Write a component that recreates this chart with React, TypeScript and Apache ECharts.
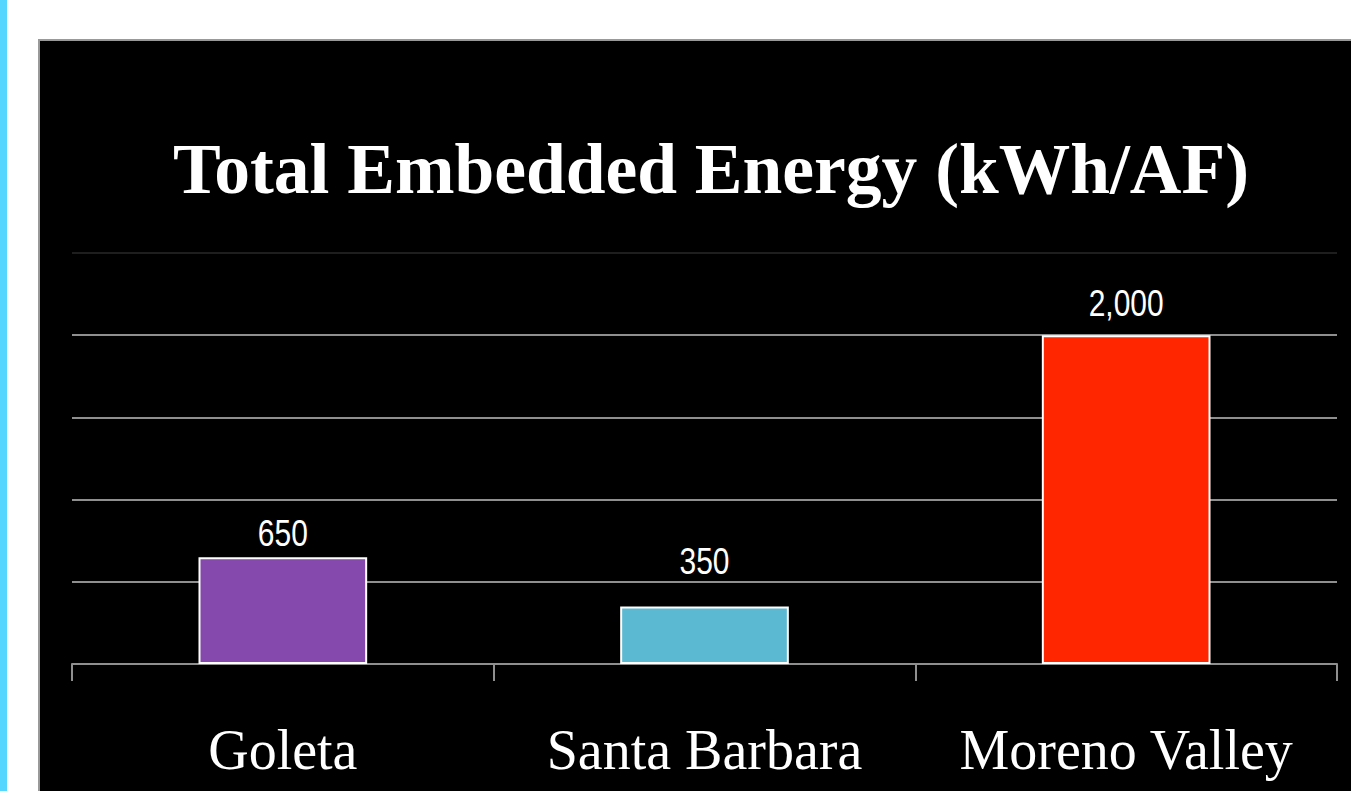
import React, { useEffect, useRef } from "react";
import * as echarts from "echarts";

// Embedded energy per acre-foot of delivered water
const cities = ["Goleta", "Santa Barbara", "Moreno Valley"];
const energyKwhPerAF = [650, 350, 2000];
const barColors = ["#8549ad", "#5cb9d2", "#ff2600"];
// gap between each bar top and its value label
const labelGaps = [5, 27, 13];

const W = 1351;
const H = 791;

const SERIF = "'Liberation Serif', 'Times New Roman', serif";
const SANS = "'Liberation Sans', Arial, sans-serif";

export default function App() {
  const ref = useRef<HTMLDivElement>(null);

  useEffect(() => {
    if (!ref.current) return;
    const chart = echarts.init(ref.current, undefined, { renderer: "svg", width: W, height: H });
    chart.setOption({
      animation: false,
      backgroundColor: "#ffffff",
      graphic: [
        { type: "rect", left: 0, top: 0, shape: { width: 7, height: H }, style: { fill: "#55d6ff" }, z: 0 },
        {
          type: "rect",
          left: 38,
          top: 39,
          shape: { width: W - 37, height: H - 38 },
          style: { fill: "#000000", stroke: "#999999", lineWidth: 2 },
          z: -1,
          silent: true,
        },
      ],
      title: {
        text: "Total Embedded Energy (kWh/AF)",
        left: 706,
        top: 127,
        textAlign: "center",
        textStyle: {
          color: "#ffffff",
          fontFamily: SERIF,
          fontWeight: "bold",
          fontSize: 71.5,
        },
      },
      grid: { left: 72, right: 14, top: 253, bottom: 127, containLabel: false },
      xAxis: {
        type: "category",
        data: cities,
        axisLine: { lineStyle: { color: "#8f8f8f", width: 2 } },
        axisTick: { show: true, interval: 0, length: 17, lineStyle: { color: "#8f8f8f", width: 2 } },
        axisLabel: {
          interval: 0,
          color: "#ffffff",
          fontFamily: SERIF,
          fontSize: 56,
          margin: 58,
        },
      },
      yAxis: {
        type: "value",
        min: 0,
        max: 2500,
        interval: 500,
        axisLabel: { show: false },
        axisLine: { show: false },
        axisTick: { show: false },
        splitLine: {
          lineStyle: {
            color: ["#8f8f8f", "#8f8f8f", "#8f8f8f", "#8f8f8f", "#8f8f8f", "#1e1e1e"],
            width: 2,
          },
        },
      },
      series: [
        {
          type: "bar",
          barWidth: "40%",
          data: energyKwhPerAF.map((v, i) => ({
            value: v,
            itemStyle: { color: barColors[i] },
          })),
          itemStyle: { borderColor: "#ffffff", borderWidth: 2 },
          label: { show: false },
        },
        {
          // narrow value labels above the bars
          type: "custom",
          data: energyKwhPerAF.map((v, i) => [i, v]),
          encode: { x: 0, y: 1 },
          z: 5,
          renderItem: (params: any, api: any) => {
            const i = params.dataIndex;
            const v = api.value(1);
            const pt = api.coord([api.value(0), v]);
            return {
              type: "text",
              x: pt[0],
              y: pt[1] - labelGaps[i],
              scaleX: 0.81,
              style: {
                text: Number(v).toLocaleString("en-US"),
                x: 0,
                y: 0,
                align: "center",
                verticalAlign: "bottom",
                fill: "#ffffff",
                font: `37px ${SANS}`,
              },
            };
          },
        },
      ],
    });
    return () => chart.dispose();
  }, []);

  return (
    <div
      ref={ref}
      style={{ position: "absolute", left: 0, top: 0, width: W, height: H }}
    />
  );
}
